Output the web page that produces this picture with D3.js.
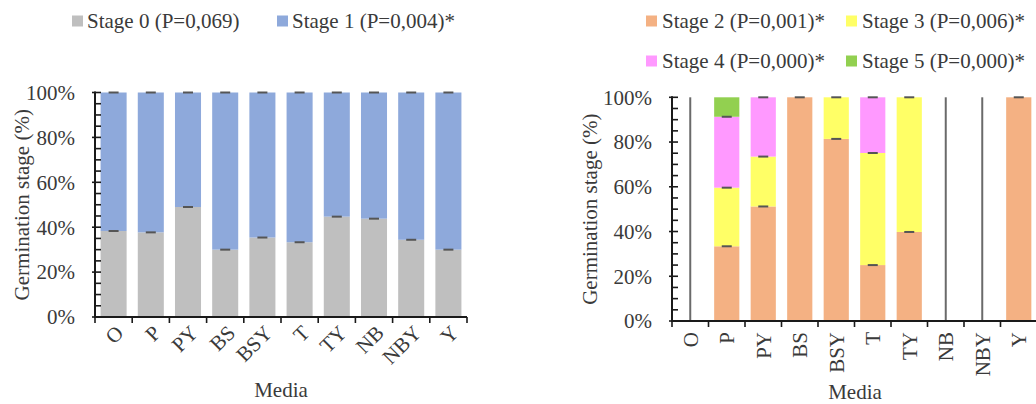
<!DOCTYPE html>
<html><head><meta charset="utf-8">
<script src="https://cdn.jsdelivr.net/npm/d3@7"></script>
<style>
html,body{margin:0;padding:0;background:#fff;}
svg text{font-family:"Liberation Serif","DejaVu Serif",serif;fill:#3a3a3a;}
</style></head>
<body><svg id="c" width="1036" height="404"></svg>
<script>
// ---- data ----
const media = ["O","P","PY","BS","BSY","T","TY","NB","NBY","Y"];
// left chart
const stage0 = [38.3, 37.7, 49.0, 30.0, 35.4, 33.3, 44.7, 43.8, 34.4, 30.0];
const stage1 = [61.7, 62.3, 51.0, 70.0, 64.6, 66.7, 55.3, 56.2, 65.6, 70.0];
// right chart
const stage2 = [0, 33.4, 51.2, 100, 81.4, 25.0, 39.8, 0, 0, 100];
const stage3 = [0, 26.2, 22.3, 0, 18.6, 50.1, 60.2, 0, 0, 0];
const stage4 = [0, 31.7, 26.5, 0, 0, 24.9, 0, 0, 0, 0];
const stage5 = [0, 8.7, 0, 0, 0, 0, 0, 0, 0, 0];
const fullRangeLines = ["O", "NB", "NBY"];
const yTickLabels = [0, 20, 40, 60, 80, 100];
const legendLeft = ["Stage 0 (P=0,069)", "Stage 1 (P=0,004)*"];
const legendRight = ["Stage 2 (P=0,001)*", "Stage 3 (P=0,006)*", "Stage 4 (P=0,000)*", "Stage 5 (P=0,000)*"];
const colorsLeft = ["#BFBFBF", "#8EA9DB"];
const colorsRight = ["#F4B183", "#FFFF66", "#FF99FF", "#92D050"];

const svg = d3.select("#c");
const FS = 21;
const FONT = "'Liberation Serif','DejaVu Serif',serif";

function txt(sel){ return sel.attr("font-family", FONT).attr("fill", "#3a3a3a"); }

function drawPanel(opts){
  const g = svg.append("g");
  const x = d3.scaleBand().domain(media).range([opts.x0, opts.x1]).paddingInner(opts.pad).paddingOuter(opts.pad/2);
  const y = d3.scaleLinear().domain([0,100]).range([opts.y0, opts.y1]);
  const rows = media.map((m,i)=>{ const r={media:m}; opts.series.forEach((s,k)=>r["s"+k]=s[i]); return r;});
  const keys = opts.series.map((s,k)=>"s"+k);
  const stack = d3.stack().keys(keys)(rows);
  stack.forEach((layer,k)=>{
    g.append("g").selectAll("rect").data(layer).join("rect")
      .attr("x", d=>x(d.data.media)).attr("width", x.bandwidth())
      .attr("y", d=>y(d[1])).attr("height", d=>Math.max(0, y(d[0])-y(d[1])))
      .attr("fill", opts.colors[k]);
  });
  // error caps
  stack.forEach((layer,k)=>{
    if(!opts.capLayers.includes(k)) return;
    g.append("g").selectAll("line").data(layer.filter(d=>d[1]-d[0]>0)).join("line")
      .attr("x1", d=>x(d.data.media)+x.bandwidth()/2-5).attr("x2", d=>x(d.data.media)+x.bandwidth()/2+5)
      .attr("y1", d=>y(d[1])).attr("y2", d=>y(d[1]))
      .attr("stroke", "#555").attr("stroke-width", 2);
  });
  if(opts.lines){
    g.append("g").selectAll("line").data(opts.lines).join("line")
      .attr("x1", d=>x(d)+x.bandwidth()/2).attr("x2", d=>x(d)+x.bandwidth()/2)
      .attr("y1", y(0)).attr("y2", y(100))
      .attr("stroke", "#6a6a6a").attr("stroke-width", 2);
  }
  // y axis
  const ax = g.append("g");
  ax.append("line").attr("x1", opts.x0).attr("x2", opts.x0).attr("y1", y(0)+1).attr("y2", y(100)-1)
    .attr("stroke", "#1a1a1a").attr("stroke-width", 2);
  const minor = d3.range(0, 101, 5);
  ax.selectAll(".mt").data(minor).join("line")
    .attr("x1", d=> d%20===0 ? opts.x0-3 : opts.x0).attr("x2", opts.x0+6)
    .attr("y1", d=>y(d)).attr("y2", d=>y(d))
    .attr("stroke", "#1a1a1a").attr("stroke-width", 1.6);
  txt(ax.selectAll(".yl").data(yTickLabels).join("text"))
    .attr("x", opts.x0-20).attr("y", d=>y(d)).attr("dy", "0.35em")
    .attr("text-anchor", "end").attr("font-size", FS).text(d=>d+"%");
  // x axis
  ax.append("line").attr("x1", opts.x0-1).attr("x2", opts.x1).attr("y1", y(0)).attr("y2", y(0))
    .attr("stroke", "#1a1a1a").attr("stroke-width", 2);
  const step = x.step();
  ax.selectAll(".xt").data(d3.range(0, media.length+1)).join("line")
    .attr("x1", i=>opts.x0 + i*step).attr("x2", i=>opts.x0 + i*step)
    .attr("y1", y(0)).attr("y2", y(0)+6)
    .attr("stroke", "#1a1a1a").attr("stroke-width", 1.6);
  txt(ax.selectAll(".xl").data(media).join("text"))
    .attr("transform", d=>`translate(${x(d)+x.bandwidth()/2 + opts.lblDx},${y(0)+opts.lblDy}) rotate(${opts.rot})`)
    .attr("dy", "0.35em").attr("text-anchor", "end").attr("font-size", FS).text(d=>d);
  txt(g.append("text")).attr("transform", `translate(${opts.ytX},${(y(0)+y(100))/2}) rotate(-90)`)
    .attr("text-anchor", "middle").attr("dy", "0.35em").attr("font-size", FS).text("Germination stage (%)");
  txt(g.append("text")).attr("x", opts.xtX).attr("y", opts.xtY).attr("text-anchor", "middle")
    .attr("font-size", FS).text("Media");
}

drawPanel({x0:95, x1:467, y0:317, y1:92.5, pad:0.3, series:[stage0, stage1], colors:colorsLeft,
  capLayers:[0,1], lines:null, rot:-45, lblDx:6, lblDy:12, ytX:22, xtX:281, xtY:397});
drawPanel({x0:672, x1:1037, y0:321, y1:97.3, pad:0.31, series:[stage2, stage3, stage4, stage5], colors:colorsRight,
  capLayers:[0,1,2], lines:fullRangeLines, rot:-90, lblDx:0, lblDy:11, ytX:590, xtX:855, xtY:399});

const lg = svg.append("g");
const leftPos = [[72, 21], [277, 21]];
legendLeft.forEach((t,i)=>{
  lg.append("rect").attr("x", leftPos[i][0]).attr("y", leftPos[i][1]-5.5).attr("width", 11).attr("height", 11).attr("fill", colorsLeft[i]);
  txt(lg.append("text")).attr("x", leftPos[i][0]+15).attr("y", leftPos[i][1]).attr("dy", "0.33em").attr("font-size", FS).text(t);
});
const rightPos = [[646, 21], [846, 21], [646, 61], [846, 61]];
legendRight.forEach((t,i)=>{
  lg.append("rect").attr("x", rightPos[i][0]).attr("y", rightPos[i][1]-5.5).attr("width", 11).attr("height", 11).attr("fill", colorsRight[i]);
  txt(lg.append("text")).attr("x", rightPos[i][0]+16).attr("y", rightPos[i][1]).attr("dy", "0.33em").attr("font-size", FS).text(t);
});
</script></body></html>
